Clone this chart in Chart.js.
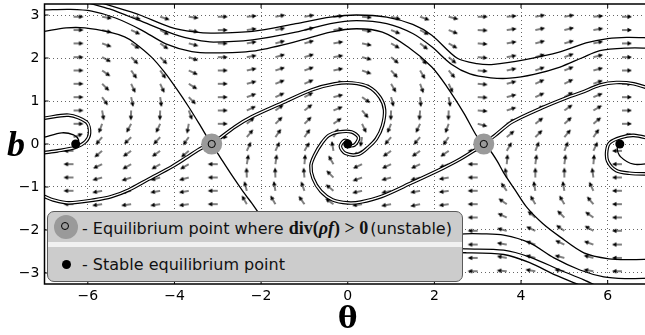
<!DOCTYPE html>
<html>
<head>
<meta charset="utf-8">
<script src="https://cdn.jsdelivr.net/npm/chart.js@4.4.1/dist/chart.umd.min.js"></script>
<style>
html, body { margin: 0; padding: 0; background: #fff; overflow: hidden; width: 645px; height: 335px; }
#wrap { position: relative; width: 652px; height: 335px; }
#c { position: absolute; left: 0; top: 0; }
#blab { position: absolute; left: 7px; top: 123px; font: italic bold 36px "Liberation Serif"; color: #000; }
#leg { position: absolute; left: 47px; top: 211px; width: 414px; height: 69px; background: #cccccc;
       border: 1px solid #5a5a5a; border-radius: 7px; font-family: "DejaVu Sans"; font-size: 16px; color: #111; }
#leg .band { position: absolute; left: 0; right: 0; top: 30px; height: 5px; background: #f1f1f1; }
#leg .disk { position: absolute; left: 6px; top: 3px; width: 24px; height: 24px; border-radius: 50%; background: #9a9a9a; }
#leg .ring { position: absolute; left: 7px; top: 7px; width: 8px; height: 8px; border-radius: 50%; border: 1px solid #000; box-sizing: border-box; }
#leg .dot { position: absolute; left: 13.5px; top: 47.5px; width: 9px; height: 9px; border-radius: 50%; background: #000; }
#leg .t1 { position: absolute; left: 34px; top: 6px; white-space: nowrap; }
#leg .t2 { position: absolute; left: 34px; top: 43px; white-space: nowrap; }
#leg .m { font-family: "Liberation Serif"; font-weight: bold; font-size: 18px; }
</style>
</head>
<body>
<div id="wrap">
  <canvas id="c" width="652" height="335"></canvas>
  <span id="blab">b</span>
  <div id="leg">
    <div class="band"></div>
    <div class="disk"><div class="ring"></div></div>
    <span class="t1">- Equilibrium point where <span class="m">div(<i>ρf</i>) &gt; 0</span><span style="margin-left:2px">(unstable)</span></span>
    <div class="dot"></div>
    <span class="t2">- Stable equilibrium point</span>
  </div>
</div>
<script>
// quiver grid (arrow tails) and arrow directions in degrees
const thetaCols = [-6.33, -5.67, -5.0, -4.33, -3.67, -3.0, -2.33, -1.67, -1.0, -0.33, 0.33, 1.0, 1.67, 2.33, 3.0, 3.67, 4.33, 5.0, 5.67, 6.33];
const bRows = [2.96, 2.65, 2.34, 2.02, 1.71, 1.40, 1.09, 0.78, 0.47, 0.16, -0.16, -0.47, -0.78, -1.09, -1.40, -1.71, -2.02, -2.34, -2.65, -2.96];
const _ = null; // hidden behind the legend box
const arrowAngle = [
  [0, -10, -15, -18, -8, 0, 5, 10, 10, 5, -5, -15, -20, -15, 0, 5, 10, 10, 5, 0],
  [0, -15, -25, -28, -12, 0, 8, 12, 14, 8, -8, -22, -28, -22, -3, 8, 12, 14, 10, 0],
  [0, -20, -33, -35, -15, 0, 10, 15, 16, 10, -12, -30, -38, -30, -5, 10, 15, 16, 12, 0],
  [0, -28, -45, -45, -20, 0, 10, 16, 17, 10, -15, -40, -48, -40, -5, 10, 16, 20, 14, 0],
  [0, -35, -55, -55, -25, 0, 12, 18, 20, 12, -20, -48, -60, -50, -5, 12, 20, 22, 15, 0],
  [0, -45, -65, -65, -32, 0, 15, 22, 24, 12, -25, -60, -70, -65, -5, 15, 25, 27, 20, 0],
  [0, -55, -78, -82, -45, 0, 20, 25, 28, 14, -35, -75, -85, -80, -3, 15, 25, 30, 22, 0],
  [0, -80, -92, -92, -70, 0, 25, 35, 38, 22, -50, -92, -95, -92, -5, 18, 28, 35, 30, 0],
  [0, -110, -118, -115, -100, 0, 40, 45, 45, 35, -65, -112, -115, -110, -15, 28, 38, 42, 40, 0],
  [20, -130, -135, -132, -125, 0, 50, 55, 55, 60, -100, -130, -130, -125, -60, 40, 45, 50, 55, 20],
  [180, -140, -145, -145, -140, 180, 65, 65, 60, 100, -150, -145, -145, -145, 180, 60, 68, 68, 65, 180],
  [180, -155, -150, -150, -150, 180, 80, 82, 85, 120, -155, -155, -155, -160, 180, 85, 82, 82, 85, 180],
  [180, -165, -162, -165, -165, 180, 92, 92, 95, 135, -160, -165, -165, -170, 180, 100, 90, 90, 98, 180],
  [180, -170, -170, -170, -170, 180, 105, 100, 110, 140, -168, -168, -170, -172, 180, 125, 100, 100, 115, 180],
  [180, -172, -172, -172, -172, 180, 120, 120, 125, 145, -172, -170, -168, -172, 180, 145, 120, 120, 130, 180],
  [_, _, _, _, _, _, _, _, _, _, _, _, _, _, 180, 155, 140, 135, 145, 180],
  [_, _, _, _, _, _, _, _, _, _, _, _, _, _, 180, 165, 155, 145, 150, 180],
  [_, _, _, _, _, _, _, _, _, _, _, _, _, _, 180, 170, 160, 155, 160, 180],
  [_, _, _, _, _, _, _, _, _, _, _, _, _, _, 180, 170, 165, 165, 165, 180],
  [_, _, _, _, _, _, _, _, _, _, _, _, _, _, 180, 175, 170, 170, 170, 180]
];

const stableTheta = [-6.28, 0, 6.28];
const unstableTheta = [-3.14, 3.14];
const xTicks = [-6, -4, -2, 0, 2, 4, 6];
const yTicks = [-3, -2, -1, 0, 1, 2, 3];

// trajectories [theta, b]
const topLine1 = [[-5.65,3.27],[-5.2,3.13],[-4.8,3.0],[-4.1,2.72],[-3.5,2.6],[-3.1,2.58],[-2.2,2.62],[-1.2,2.8],[-0.4,2.95],[0.2,3.0],[0.9,2.95],[1.5,2.78],[1.94,2.53],[2.52,2.0],[2.98,1.87],[3.37,1.85],[4.1,1.96],[4.9,2.14],[5.5,2.35],[6.0,2.45],[6.44,2.48],[7.0,2.47]];
const topLine2 = [[-5.95,3.27],[-5.5,3.14],[-4.83,2.88],[-4.0,2.55],[-3.5,2.42],[-3.1,2.37],[-2.2,2.42],[-1.2,2.6],[-0.4,2.8],[0.2,2.87],[0.9,2.8],[1.5,2.57],[1.94,2.26],[2.4,1.85],[2.82,1.63],[3.3,1.54],[3.74,1.53],[4.3,1.62],[4.9,1.79],[5.4,2.0],[5.82,2.17],[6.44,2.23],[7.0,2.23]];
const toRightSaddle = [[-7.0,3.12],[-6.4,3.13],[-5.91,3.09],[-5.36,2.93],[-4.76,2.65],[-4.2,2.33],[-3.6,2.15],[-3.1,2.12],[-2.2,2.16],[-1.2,2.38],[-0.4,2.6],[0.2,2.68],[0.8,2.6],[1.4,2.25],[1.94,1.79],[2.29,1.33],[2.68,0.72],[2.98,0.18],[3.14,0]];
const toLeftSaddleTop = [[-7.0,2.62],[-6.5,2.7],[-6.07,2.7],[-5.5,2.6],[-5.15,2.49],[-4.92,2.35],[-4.53,2.02],[-4.23,1.67],[-3.95,1.28],[-3.67,0.86],[-3.4,0.42],[-3.21,0.1],[-3.14,0]];
const toLeftSaddleLow = [[-3.14,0],[-2.9,-0.38],[-2.68,-0.72],[-2.42,-1.1],[-2.22,-1.37],[-1.94,-1.75],[-1.2,-2.35],[-0.4,-2.62],[0.2,-2.68],[1.2,-2.4],[2.2,-2.14],[2.7,-2.09],[3.1,-2.09],[3.6,-2.12],[4.2,-2.3],[4.76,-2.65],[5.36,-2.93],[5.91,-3.09],[6.4,-3.13],[7.0,-3.12]];
const lowLine1 = [[1.0,-2.6],[2.0,-2.42],[2.75,-2.44],[3.6,-2.47],[4.2,-2.63],[4.9,-2.93],[5.45,-3.16],[5.75,-3.3]];
const lowLine2 = [[1.0,-2.75],[2.0,-2.55],[2.75,-2.53],[3.6,-2.57],[4.2,-2.76],[4.8,-3.05],[5.4,-3.3]];
const toRightSaddleLow = [[3.14,0],[3.28,-0.14],[3.45,-0.4],[3.6,-0.67],[3.85,-1.05],[4.13,-1.47],[4.5,-1.85],[4.9,-2.16],[5.45,-2.53],[6.03,-2.67],[6.5,-2.69],[7.0,-2.68]];
const leftSpiralIn = [[-7.0,0.16],[-6.6,0.26],[-6.33,0.21],[-6.21,0.09],[-6.25,0.0]];
const rightSpiralIn = [[7.0,-0.45],[6.6,-0.47],[6.3,-0.3],[6.22,-0.1],[6.28,0.0]];

const fromLeftUp = [[-3.14,0],[-3.0,0.1],[-2.6,0.4],[-2.22,0.63],[-1.52,0.95],[-0.83,1.26],[-0.3,1.4],[0.1,1.42],[0.48,1.33],[0.74,1.09],[0.85,0.79],[0.8,0.42],[0.66,0.12],[0.48,-0.07],[0.25,-0.24],[-0.05,-0.22],[-0.17,-0.06],[-0.08,0.08],[0.03,0.05],[0,0]];
const fromRightDown = [[3.14,0],[3.0,-0.1],[2.6,-0.35],[2.2,-0.56],[1.48,-0.9],[0.78,-1.22],[0.3,-1.35],[0.0,-1.37],[-0.35,-1.3],[-0.62,-1.1],[-0.8,-0.8],[-0.85,-0.5],[-0.76,-0.25],[-0.6,0.02],[-0.44,0.2],[-0.21,0.28],[0.09,0.28],[0.25,0.15],[0.16,-0.02],[0.05,-0.04],[0,0]];
const fromLeftDown = [[-3.14,0],[-3.37,-0.09],[-3.7,-0.3],[-4.06,-0.53],[-4.6,-0.82],[-5.06,-1.07],[-5.45,-1.22],[-5.84,-1.3],[-6.44,-1.37],[-6.8,-1.3],[-7.0,-1.22]];
const fromRightUp = [[3.14,0],[3.4,0.2],[3.79,0.51],[4.48,0.84],[5.06,1.08],[5.4,1.2],[5.82,1.37],[6.2,1.43],[6.6,1.4],[7.0,1.28]];
const leftSpiral = [[-7.0,0.6],[-6.44,0.67],[-6.03,0.51],[-5.96,0.26],[-6.05,0.06],[-6.3,-0.08],[-6.7,-0.16],[-7.0,-0.2]];
const rightSpiral = [[7.0,-0.7],[6.5,-0.68],[6.2,-0.62],[6.0,-0.4],[5.98,-0.15],[6.05,0.03],[6.3,0.15],[6.6,0.2],[7.0,0.12]];

const singleLines = [topLine1, topLine2, toRightSaddle, toLeftSaddleTop, toLeftSaddleLow, lowLine1, lowLine2, toRightSaddleLow, leftSpiralIn, rightSpiralIn];
const doubleLines = [fromLeftUp, fromRightDown, fromLeftDown, fromRightUp, leftSpiral, rightSpiral];

// arrow glyph, tail at the centre so the rotation pivots on the tail
function makeArrow(len) {
  var c = document.createElement('canvas');
  c.width = 2 * len + 2; c.height = 8;
  var g = c.getContext('2d');
  var cx = len + 1, cy = 4;
  g.strokeStyle = '#000'; g.fillStyle = '#000'; g.lineWidth = 1;
  g.beginPath(); g.moveTo(cx, cy); g.lineTo(cx + len - 3, cy); g.stroke();
  g.beginPath(); g.moveTo(cx + len, cy); g.lineTo(cx + len - 4.5, cy - 2.3); g.lineTo(cx + len - 4.5, cy + 2.3); g.closePath(); g.fill();
  return c;
}
var arrowImg = makeArrow(10);

var arrowPts = [], arrowRot = [];
for (var j = 0; j < bRows.length; j++) {
  for (var k = 0; k < thetaCols.length; k++) {
    var a = arrowAngle[j][k];
    if (a === null) continue;
    arrowPts.push({x: thetaCols[k], y: bRows[j]});
    arrowRot.push(-a);
  }
}
var toXY = pts => pts.map(p => ({x: p[0], y: p[1]}));

var datasets = [];
datasets.push({data: stableTheta.map(t => ({x: t, y: 0})), pointRadius: 4.5, backgroundColor: '#000', borderWidth: 0, order: 0});
datasets.push({data: unstableTheta.map(t => ({x: t, y: 0})), pointRadius: 3.6, backgroundColor: '#9a9a9a', borderColor: '#000', borderWidth: 1, order: 0});
datasets.push({data: unstableTheta.map(t => ({x: t, y: 0})), pointRadius: 10.5, backgroundColor: '#9a9a9a', borderWidth: 0, order: 1});
doubleLines.forEach(function (l) {
  datasets.push({data: toXY(l), showLine: true, pointRadius: 0, borderColor: '#fff', borderWidth: 1.3, tension: 0.3, order: 2});
  datasets.push({data: toXY(l), showLine: true, pointRadius: 0, borderColor: '#000', borderWidth: 3.6, tension: 0.3, order: 3});
});
singleLines.forEach(function (l) {
  datasets.push({data: toXY(l), showLine: true, pointRadius: 0, borderColor: '#000', borderWidth: 1.3, tension: 0.3, order: 3});
});
datasets.push({data: arrowPts, pointStyle: arrowImg, rotation: arrowRot, pointRadius: 5, order: 4});

var fmt = v => v < 0 ? '\u2212' + Math.abs(v) : String(v);

const framePlugin = {
  id: 'frame',
  afterDraw(chart) {
    var ctx = chart.ctx, a = chart.chartArea, sx = chart.scales.x, sy = chart.scales.y;
    ctx.save();
    ctx.strokeStyle = '#000';
    ctx.lineWidth = 1;
    ctx.beginPath();
    xTicks.forEach(function (v) {
      var p = sx.getPixelForValue(v);
      ctx.moveTo(p, a.top); ctx.lineTo(p, a.top + 4);
      ctx.moveTo(p, a.bottom); ctx.lineTo(p, a.bottom - 4);
    });
    yTicks.forEach(function (v) {
      var p = sy.getPixelForValue(v);
      ctx.moveTo(a.left, p); ctx.lineTo(a.left + 4, p);
    });
    ctx.stroke();
    ctx.lineWidth = 1.5;
    ctx.strokeRect(a.left, a.top, a.right - a.left, a.bottom - a.top);
    ctx.restore();
  }
};

new Chart(document.getElementById('c'), {
  type: 'scatter',
  data: {datasets: datasets},
  options: {
    responsive: false,
    animation: false,
    events: [],
    layout: {autoPadding: false, padding: {left: 0, right: 1, top: 4, bottom: 0}},
    plugins: {legend: {display: false}, tooltip: {enabled: false}},
    scales: {
      x: {
        min: -7, max: 7,
        afterBuildTicks: s => { s.ticks = xTicks.map(v => ({value: v})); },
        afterFit: s => { s.height = 51; s.paddingLeft = 0; s.paddingRight = 0; },
        ticks: {font: {family: 'DejaVu Sans', size: 14}, color: '#000', padding: 4, maxRotation: 0, autoSkip: false, callback: fmt},
        grid: {color: 'rgba(0,0,0,0.6)', lineWidth: 1, drawTicks: false, borderDash: [1, 3]},
        border: {display: false, dash: [1, 3]},
        title: {display: true, text: 'θ', color: '#000', font: {family: 'DejaVu Serif', weight: 'bold', size: 29, lineHeight: 1.0}, padding: {top: 0, bottom: 0}}
      },
      y: {
        min: -3.256, max: 3.256,
        afterBuildTicks: s => { s.ticks = yTicks.map(v => ({value: v})); },
        afterFit: s => { s.width = 44.5; s.paddingTop = 0; s.paddingBottom = 0; },
        ticks: {font: {family: 'DejaVu Sans', size: 14}, color: '#000', padding: 5, autoSkip: false, callback: fmt},
        grid: {color: 'rgba(0,0,0,0.6)', lineWidth: 1, drawTicks: false, borderDash: [1, 3]},
        border: {display: false, dash: [1, 3]}
      }
    }
  },
  plugins: [framePlugin]
});
</script>
</body>
</html>
